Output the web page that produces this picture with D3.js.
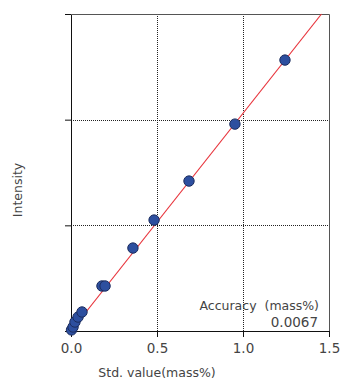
<!DOCTYPE html>
<html>
<head>
<meta charset="utf-8">
<script src="https://cdn.jsdelivr.net/npm/d3@7"></script>
<style>
  body { margin: 0; background: #fff; }
  svg text { font-family: "DejaVu Sans", Verdana, sans-serif; fill: #444; }
</style>
</head>
<body>
<svg id="canvas" width="348" height="389"></svg>
<script>
// standard values (mass%) and measured intensity (arbitrary units)
const stdValues = [0.003, 0.012, 0.023, 0.041, 0.064, 0.180, 0.198, 0.360, 0.483, 0.686, 0.953, 1.244];
const intensities = [0.01, 0.038, 0.085, 0.132, 0.180, 0.426, 0.426, 0.785, 1.050, 1.419, 1.958, 2.564];
const xTicks = [0, 0.5, 1.0, 1.5];
const yTicks = [0, 1, 2, 3];
const slope = 2.06;
const accuracy = "0.0067";

const canvas = d3.select("#canvas");
const margin = { left: 71, right: 19, top: 14, bottom: 58 };
const width = 348 - margin.left - margin.right;
const height = 389 - margin.top - margin.bottom;

const x = d3.scaleLinear().domain([0, 1.5]).range([0, width]);
const y = d3.scaleLinear().domain([0, 3]).range([height, 0]);

const g = canvas.append("g").attr("transform", `translate(${margin.left},${margin.top})`);

// grid
g.selectAll(".vgrid")
    .data(xTicks.slice(1, -1))
    .enter()
    .append("line")
    .attr("x1", (d) => x(d) + 0.5).attr("x2", (d) => x(d) + 0.5)
    .attr("y1", 0).attr("y2", height)
    .attr("stroke", "#222").attr("stroke-dasharray", "1,1");
g.selectAll(".hgrid")
    .data(yTicks.slice(1, -1))
    .enter()
    .append("line")
    .attr("x1", 0).attr("x2", width)
    .attr("y1", (d) => Math.round(y(d)) + 0.5).attr("y2", (d) => Math.round(y(d)) + 0.5)
    .attr("stroke", "#222").attr("stroke-dasharray", "1,1");

// frame top/right
g.append("path")
    .attr("d", `M0.5,0.5H${width + 0.5}V${height}`)
    .attr("fill", "none").attr("stroke", "#555");

// axes
const xAxis = g.append("g")
    .attr("transform", `translate(0,${height})`)
    .call(d3.axisBottom(x).tickValues(xTicks).tickFormat(d3.format(".1f")).tickSize(6).tickSizeOuter(0));
const yAxis = g.append("g")
    .call(d3.axisLeft(y).tickValues(yTicks).tickFormat("").tickSize(6).tickSizeOuter(0));
[xAxis, yAxis].forEach((a) => {
    a.selectAll("line, path").attr("stroke", "#111");
});
xAxis.selectAll("text")
    .attr("font-size", 13.5).attr("dy", "0.95em").attr("fill", "#444")
    .style("font-family", "DejaVu Sans, sans-serif");

// regression line
g.append("line")
    .attr("x1", x(0)).attr("y1", y(0))
    .attr("x2", x(3 / slope)).attr("y2", y(3))
    .attr("stroke", "#e8343c").attr("stroke-width", 1.2);

// points
g.selectAll("circle")
    .data(stdValues.map((v, i) => [v, intensities[i]]))
    .enter()
    .append("circle")
    .attr("cx", (d) => x(d[0]))
    .attr("cy", (d) => y(d[1]))
    .attr("r", 5.2)
    .attr("fill", "#2d4f9f")
    .attr("stroke", "#1b2c5e")
    .attr("stroke-width", 1);

// labels
canvas.append("text")
    .attr("transform", "translate(22,190) rotate(-90)")
    .attr("text-anchor", "middle")
    .attr("font-size", 12.5)
    .text("Intensity");
canvas.append("text")
    .attr("x", 157).attr("y", 377)
    .attr("text-anchor", "middle")
    .attr("font-size", 12.5)
    .text("Std. value(mass%)");
canvas.append("text")
    .attr("x", 319).attr("y", 310)
    .attr("text-anchor", "end")
    .attr("font-size", 12.5)
    .attr("xml:space", "preserve")
    .text("Accuracy  (mass%)");
canvas.append("text")
    .attr("x", 318).attr("y", 327)
    .attr("text-anchor", "end")
    .attr("font-size", 13.5)
    .text(accuracy);
</script>
</body>
</html>
